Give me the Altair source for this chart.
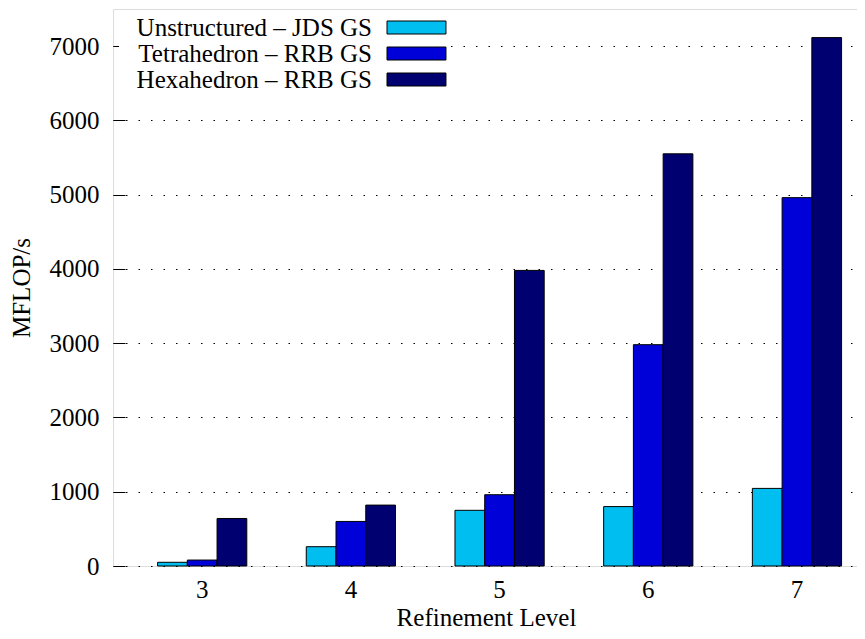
import altair as alt
import pandas as pd

levels = [3, 4, 5, 6, 7]
series_names = ["Unstructured – JDS GS", "Tetrahedron – RRB GS", "Hexahedron – RRB GS"]
unstructured = [50, 260, 750, 800, 1045]
tetrahedron = [80, 600, 960, 2980, 4960]
hexahedron = [640, 820, 3980, 5550, 7115]
colors = ["#00bef0", "#0000d8", "#000070"]
y_ticks = [0, 1000, 2000, 3000, 4000, 5000, 6000, 7000]

rows = []
for name, vals in zip(series_names, [unstructured, tetrahedron, hexahedron]):
    for lv, v in zip(levels, vals):
        rows.append({"level": str(lv), "series": name, "mflops": v})
df = pd.DataFrame(rows)

FONT = "Liberation Serif"
level_order = [str(l) for l in levels]

# legend key: a wide box drawn to the right of the (right-aligned) label
KEY_SHAPE = "M39.31,-1H48.38V1H39.31Z"

chart = alt.Chart(df).mark_bar(stroke="black", strokeWidth=1).encode(
    x=alt.X(
        "level:N",
        sort=level_order,
        title="Refinement Level",
        scale=alt.Scale(paddingInner=0.4, paddingOuter=0.2085, align=0.719),
        axis=alt.Axis(labelAngle=0, ticks=False, tickSize=0, domain=False,
                      labelPadding=31, labelBaseline="alphabetic",
                      titleBaseline="alphabetic", titleY=59,
                      labelFont=FONT, labelFontSize=25, labelColor="black",
                      titleFont=FONT, titleFontSize=25, titleFontWeight="normal",
                      titleColor="black"),
    ),
    xOffset=alt.XOffset("series:N", sort=series_names,
                        scale=alt.Scale(paddingInner=0, paddingOuter=0)),
    y=alt.Y(
        "mflops:Q",
        title="MFLOP/s",
        scale=alt.Scale(domain=[0, 7500], nice=False),
        axis=alt.Axis(values=y_ticks, format="d", offset=-12, tickSize=12,
                      tickColor="black", tickWidth=1, domain=False,
                      labelPadding=14, titlePadding=15,
                      labelFont=FONT, labelFontSize=25, labelColor="black",
                      titleFont=FONT, titleFontSize=25, titleFontWeight="normal",
                      titleColor="black", grid=True, gridColor="black",
                      gridWidth=1, gridDash=[1.5, 11], gridOpacity=1),
    ),
    color=alt.Color(
        "series:N",
        sort=series_names,
        scale=alt.Scale(domain=series_names, range=colors),
        legend=alt.Legend(
            title=None, orient="none", legendX=6, legendY=6, direction="vertical",
            symbolType=KEY_SHAPE, symbolSize=169,
            symbolStrokeColor="black", symbolStrokeWidth=1,
            labelAlign="right", labelOffset=228, symbolOffset=0,
            labelFont=FONT, labelFontSize=25, labelColor="black", labelLimit=0,
            rowPadding=0, fillColor="white", padding=0,
        ),
    ),
).properties(
    width=746,
    height=557,
    autosize=alt.AutoSizeParams(type="none"),
    padding={"left": 105, "top": 1, "right": -2, "bottom": 65},
).configure_view(
    stroke="black", strokeWidth=1
).configure_axis(
    labelFont=FONT, titleFont=FONT
).configure_legend(
    labelFont=FONT
).configure(background="white")

chart.save("out.html", embed_options={"renderer": "svg", "actions": False})
